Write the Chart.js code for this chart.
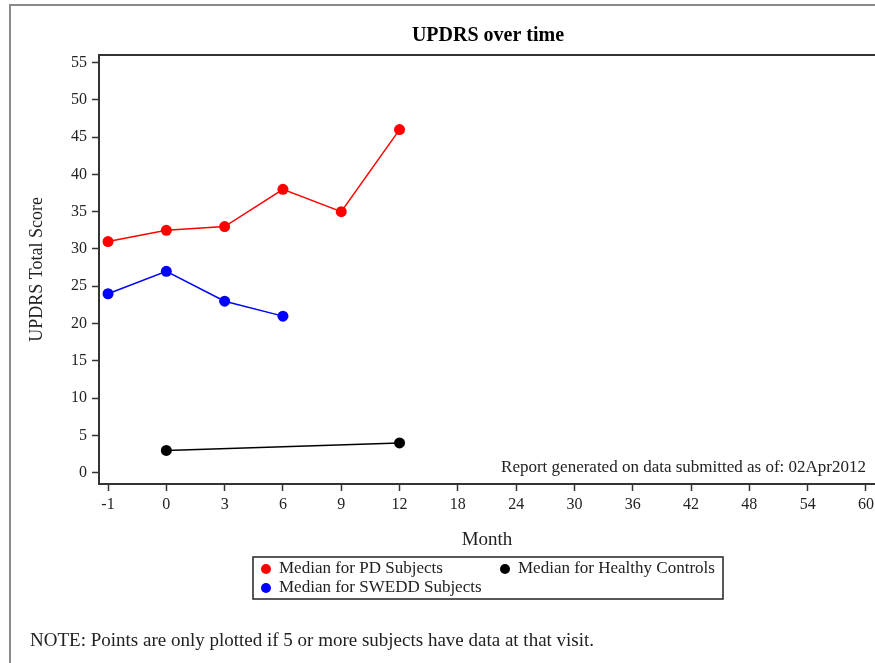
<!DOCTYPE html>
<html>
<head>
<meta charset="utf-8">
<title>UPDRS over time</title>
<script src="https://cdn.jsdelivr.net/npm/chart.js@4.4.0/dist/chart.umd.min.js"></script>
<style>
  html, body { margin: 0; padding: 0; background: #fff; overflow: hidden; }
  #wrap { position: relative; width: 890px; height: 663px; }
</style>
</head>
<body>
<div id="wrap"><canvas id="updrsChart"></canvas></div>
<script>
// --- datos ---
const monthLabels = ['-1', '0', '3', '6', '9', '12', '18', '24', '30', '36', '42', '48', '54', '60'];
const yTickValues = [0, 5, 10, 15, 20, 25, 30, 35, 40, 45, 50, 55];

const pdVisits = ['-1', '0', '3', '6', '9', '12'];
const pdMedian = [31, 32.5, 33, 38, 35, 46];

const sweddVisits = ['-1', '0', '3', '6'];
const sweddMedian = [24, 27, 23, 21];

const hcVisits = ['0', '12'];
const hcMedian = [3, 4];

const FONT = "'Liberation Serif', 'Times New Roman', serif";
const AXIS = '#333';

// visita -> posicion en el eje (meses espaciados como categorias)
function toPoints(visits, values) {
  return visits.map((v, i) => ({ x: monthLabels.indexOf(v), y: values[i] }));
}

function serie(label, color, visits, values) {
  return {
    label: label,
    data: toPoints(visits, values),
    borderColor: color,
    backgroundColor: color,
    borderWidth: 1.5,
    pointRadius: 5.5,
    pointHoverRadius: 5.5,
    pointBorderWidth: 0,
    tension: 0
  };
}

// --- adornos: marco, titulo, nota, leyenda ---
const decor = {
  id: 'decor',
  beforeDraw(chart) {
    const c = chart.ctx;
    c.save();
    c.strokeStyle = '#8a8a8a';
    c.lineWidth = 2;
    c.beginPath();
    c.moveTo(10, 663);
    c.lineTo(10, 5);
    c.lineTo(890, 5);
    c.stroke();
    c.restore();
  },
  afterDraw(chart) {
    const c = chart.ctx;
    const a = chart.chartArea;
    c.save();
    // marco superior
    c.strokeStyle = AXIS;
    c.lineWidth = 2;
    c.beginPath();
    c.moveTo(a.left, a.top);
    c.lineTo(a.right + 10, a.top);
    c.stroke();

    // titulo
    c.fillStyle = '#000';
    c.font = 'bold 20px ' + FONT;
    c.textAlign = 'center';
    c.textBaseline = 'middle';
    c.fillText('UPDRS over time', 488, 36);

    // texto del informe
    c.font = '17px ' + FONT;
    c.fillStyle = '#222';
    c.textAlign = 'right';
    c.fillText('Report generated on data submitted as of: 02Apr2012', 866, 468);

    // leyenda (dos filas, por columnas)
    const box = { x: 253, y: 557, w: 470, h: 42 };
    c.strokeStyle = '#222';
    c.lineWidth = 1.5;
    c.strokeRect(box.x, box.y, box.w, box.h);
    const cols = [266, 505];
    const rows = [569, 588];
    c.textAlign = 'left';
    c.font = '17px ' + FONT;
    chart.data.datasets.forEach((ds, i) => {
      const cx = cols[Math.floor(i / 2)];
      const cy = rows[i % 2];
      c.fillStyle = ds.borderColor;
      c.beginPath();
      c.arc(cx, cy, 5, 0, Math.PI * 2);
      c.fill();
      c.fillStyle = '#222';
      c.fillText(ds.label, cx + 13, cy);
    });

    // nota
    c.font = '19px ' + FONT;
    c.fillText('NOTE: Points are only plotted if 5 or more subjects have data at that visit.', 30, 641);
    c.restore();
  }
};

const ctx = document.getElementById('updrsChart').getContext('2d');
const updrsChart = new Chart(ctx, {
  type: 'line',
  data: {
    datasets: [
      serie('Median for PD Subjects', '#ff0000', pdVisits, pdMedian),
      serie('Median for SWEDD Subjects', '#0000ff', sweddVisits, sweddMedian),
      serie('Median for Healthy Controls', '#000000', hcVisits, hcMedian)
    ]
  },
  options: {
    responsive: true,
    maintainAspectRatio: false,
    animation: false,
    layout: { padding: { top: 55, left: 0, right: 15, bottom: 0 } },
    plugins: {
      legend: { display: false },
      tooltip: { enabled: false }
    },
    scales: {
      x: {
        type: 'linear',
        min: -0.155,
        max: 13.155,
        afterBuildTicks: s => { s.ticks = monthLabels.map((l, i) => ({ value: i })); },
        afterFit: s => { s.height = 179; },
        ticks: {
          callback: v => monthLabels[v],
          font: { family: FONT, size: 16 },
          color: '#222',
          padding: 4,
          maxRotation: 0,
          autoSkip: false
        },
        grid: { drawOnChartArea: false, drawTicks: true, tickLength: 7, tickColor: AXIS, tickWidth: 1.5 },
        border: { display: true, color: AXIS, width: 2 },
        title: {
          display: true,
          text: 'Month',
          color: '#222',
          font: { family: FONT, size: 19 },
          padding: { top: 0, bottom: 112 }
        }
      },
      y: {
        min: -1.5,
        max: 56,
        afterBuildTicks: s => { s.ticks = yTickValues.map(v => ({ value: v })); },
        afterFit: s => { s.width = 99; },
        ticks: {
          font: { family: FONT, size: 16 },
          color: '#222',
          padding: 5
        },
        grid: { drawOnChartArea: false, drawTicks: true, tickLength: 7, tickColor: AXIS, tickWidth: 1.5 },
        border: { display: true, color: AXIS, width: 2 },
        title: {
          display: true,
          text: 'UPDRS Total Score',
          color: '#222',
          font: { family: FONT, size: 18 },
          padding: { top: 26, bottom: 0 }
        }
      }
    }
  },
  plugins: [decor]
});
</script>
</body>
</html>
